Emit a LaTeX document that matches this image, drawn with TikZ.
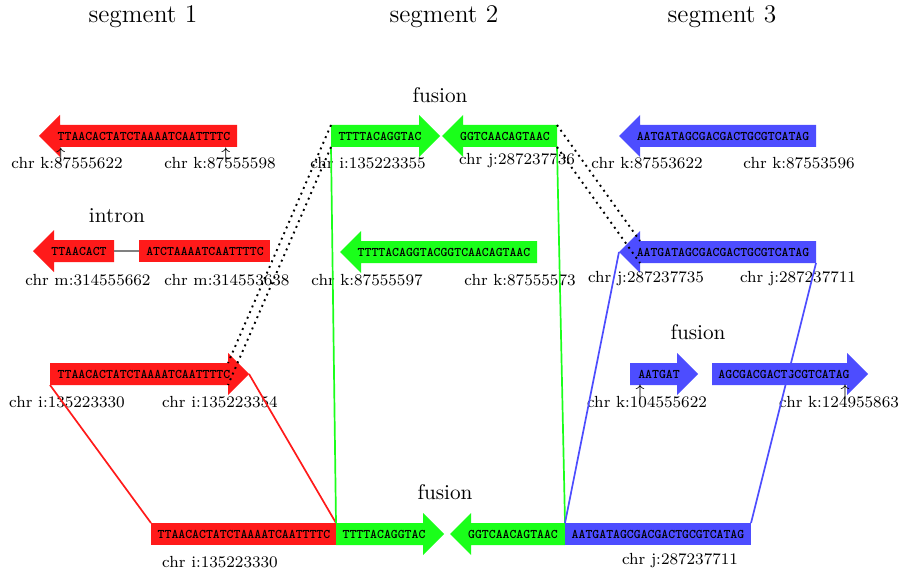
\documentclass[tikz,border=0pt]{standalone}
\usepackage{fontspec}
\usetikzlibrary{arrows.meta}

\definecolor{segred}{RGB}{255,26,26}
\definecolor{seggreen}{RGB}{26,255,26}
\definecolor{segblue}{RGB}{77,77,255}

\tikzset{
  seq/.style={inner sep=0pt, font=\fontsize{6.2}{7}\selectfont\ttfamily\bfseries},
  chrlabel/.style={inner sep=0pt, font=\fontsize{7.6}{9}\selectfont},
  segtitle/.style={inner sep=0pt, font=\large},
  grouptitle/.style={inner sep=0pt, font=\normalsize},
  posmark/.style={inner sep=0pt, font=\footnotesize},
  link/.style={line width=0.8pt},
  zoomline/.style={line width=0.9pt, dotted},
}

% right-pointing sequence arrow: name, tail x, tip x, y, colour, text x, text
\newcommand\seqright[7]{%
  \coordinate (#1-tt) at (#2,#4-11);
  \coordinate (#1-tb) at (#2,#4+11);
  \coordinate (#1-tm) at (#2,#4);
  \coordinate (#1-ht) at (#3-21,#4-11);
  \coordinate (#1-hb) at (#3-21,#4+11);
  \coordinate (#1-tip) at (#3,#4);
  \fill[#5] (#1-tt) -- (#1-ht) -- (#3-21,#4-21) -- (#1-tip)
    -- (#3-21,#4+21) -- (#1-hb) -- (#1-tb) -- cycle;
  \node[seq] (#1) at (#6,#4) {#7};}

% left-pointing sequence arrow: name, tip x, tail x, y, colour, text x, text
\newcommand\seqleft[7]{%
  \coordinate (#1-tip) at (#2,#4);
  \coordinate (#1-ht) at (#2+21,#4-11);
  \coordinate (#1-hb) at (#2+21,#4+11);
  \coordinate (#1-tt) at (#3,#4-11);
  \coordinate (#1-tb) at (#3,#4+11);
  \coordinate (#1-tm) at (#3,#4);
  \fill[#5] (#1-tip) -- (#2+21,#4-21) -- (#1-ht) -- (#1-tt)
    -- (#1-tb) -- (#1-hb) -- (#2+21,#4+21) -- cycle;
  \node[seq] (#1) at (#6,#4) {#7};}

% plain sequence block: name, left x, right x, y, colour, text x, text
\newcommand\seqblock[7]{%
  \coordinate (#1-lt) at (#2,#4-11);
  \coordinate (#1-lb) at (#2,#4+11);
  \coordinate (#1-lm) at (#2,#4);
  \coordinate (#1-rt) at (#3,#4-11);
  \coordinate (#1-rb) at (#3,#4+11);
  \fill[#5] (#1-lt) rectangle (#1-rb);
  \node[seq] (#1) at (#6,#4) {#7};}

\begin{document}
\begin{tikzpicture}[x=0.4717pt, y=-0.4717pt]
\useasboundingbox (0,0) rectangle (898,577);

% column titles
\node[segtitle] (t1) at (143,17) {segment 1};
\node[segtitle] (t2) at (444,17) {segment 2};
\node[segtitle] (t3) at (722,17) {segment 3};

% ---- row 1 ----
\seqleft{ra}{39}{237}{136}{segred}{144}{TTAACACTATCTAAAATCAATTTTC}
\node[posmark] (ra-p1) at (61,155) {$\uparrow$};
\node[posmark] (ra-p2) at (226,155) {$\uparrow$};
\node[chrlabel] (ra-l1) at (67,163) {chr k:87555622};
\node[chrlabel] (ra-l2) at (220,163) {chr k:87555598};

\node[grouptitle] (f1) at (440,95) {fusion};
\seqright{ga}{331}{440}{136}{seggreen}{380}{TTTTACAGGTAC}
\seqleft{gb}{442}{557}{136}{seggreen}{505}{GGTCAACAGTAAC}
\node[chrlabel] (ga-l) at (368,163) {chr i:135223355};
\node[chrlabel] (gb-l) at (517,161) {chr j:287237736};

\seqleft{ba}{619}{816}{136}{segblue}{723}{AATGATAGCGACGACTGCGTCATAG}
\node[chrlabel] (ba-l1) at (647,163) {chr k:87553622};
\node[chrlabel] (ba-l2) at (799,163) {chr k:87553596};

% ---- row 2 ----
\node[grouptitle] (intron) at (117,216) {intron};
\seqleft{rb}{33}{114}{251}{segred}{79}{TTAACACT}
\seqblock{rc}{139}{270}{251}{segred}{205}{ATCTAAAATCAATTTTC}
\draw[gray, line width=0.8pt] (rb-tm) -- (rc-lm);
\node[chrlabel] (rb-l) at (88,280) {chr m:314555662};
\node[chrlabel] (rc-l) at (227,280) {chr m:314553638};

\seqleft{gc}{340}{537}{252}{seggreen}{444}{TTTTACAGGTACGGTCAACAGTAAC}
\node[chrlabel] (gc-l1) at (367,280) {chr k:87555597};
\node[chrlabel] (gc-l2) at (520,280) {chr k:87555573};

\seqleft{bb}{619}{816}{252}{segblue}{723}{AATGATAGCGACGACTGCGTCATAG}
\node[chrlabel] (bb-l1) at (646,279) {chr j:287237735};
\node[chrlabel] (bb-l2) at (798,279) {chr j:287237711};

% ---- row 3 ----
\seqright{rd}{50}{249}{374}{segred}{144}{TTAACACTATCTAAAATCAATTTTC}
\node[chrlabel] (rd-l1) at (67,402) {chr i:135223330};
\node[chrlabel] (rd-l2) at (220,402) {chr i:135223354};

\node[grouptitle] (f2) at (698,332) {fusion};
\seqright{bc}{630}{698}{374}{segblue}{659}{AATGAT}
\seqright{bd}{712}{868}{374}{segblue}{784}{AGCGACGACTGCGTCATAG}
\node[posmark] (bc-p) at (640,392) {$\uparrow$};
\node[posmark] (bd-p) at (845,392) {$\uparrow$};
\node[chrlabel] (bc-l) at (647,402) {chr k:104555622};
\node[chrlabel] (bd-l) at (839,402) {chr k:124955863};

% ---- row 4: fused product ----
\node[grouptitle] (f3) at (445,492) {fusion};
\seqblock{re}{151}{336}{534}{segred}{244}{TTAACACTATCTAAAATCAATTTTC}
\seqright{gd}{336}{444}{534}{seggreen}{384}{TTTTACAGGTAC}
\seqleft{ge}{450}{565}{534}{seggreen}{513}{GGTCAACAGTAAC}
\seqblock{be}{565}{751}{534}{segblue}{658}{AATGATAGCGACGACTGCGTCATAG}
\node[chrlabel] (re-l) at (220,562) {chr i:135223330};
\node[chrlabel] (be-l) at (680,561) {chr j:287237711};

% ---- connectors ----
\draw[link, segred] (rd-tb) -- (re-lt);
\draw[link, segred] (rd-tip) -- (re-rt);
\draw[link, seggreen] (ga-tb) -- (gd-tt);
\draw[link, seggreen] (gb-tb) -- (ge-tt);
\draw[link, segblue] (bb-tip) -- (be-lt);
\draw[link, segblue] (bb-tb) -- (be-rt);

\draw[zoomline] (ga-tt) -- (rd-ht);
\draw[zoomline] (ga-tb) -- (rd-hb);
\draw[zoomline] (gb-tt) -- (bb-ht);
\draw[zoomline] (gb-tb) -- (bb-hb);
\end{tikzpicture}
\end{document}
